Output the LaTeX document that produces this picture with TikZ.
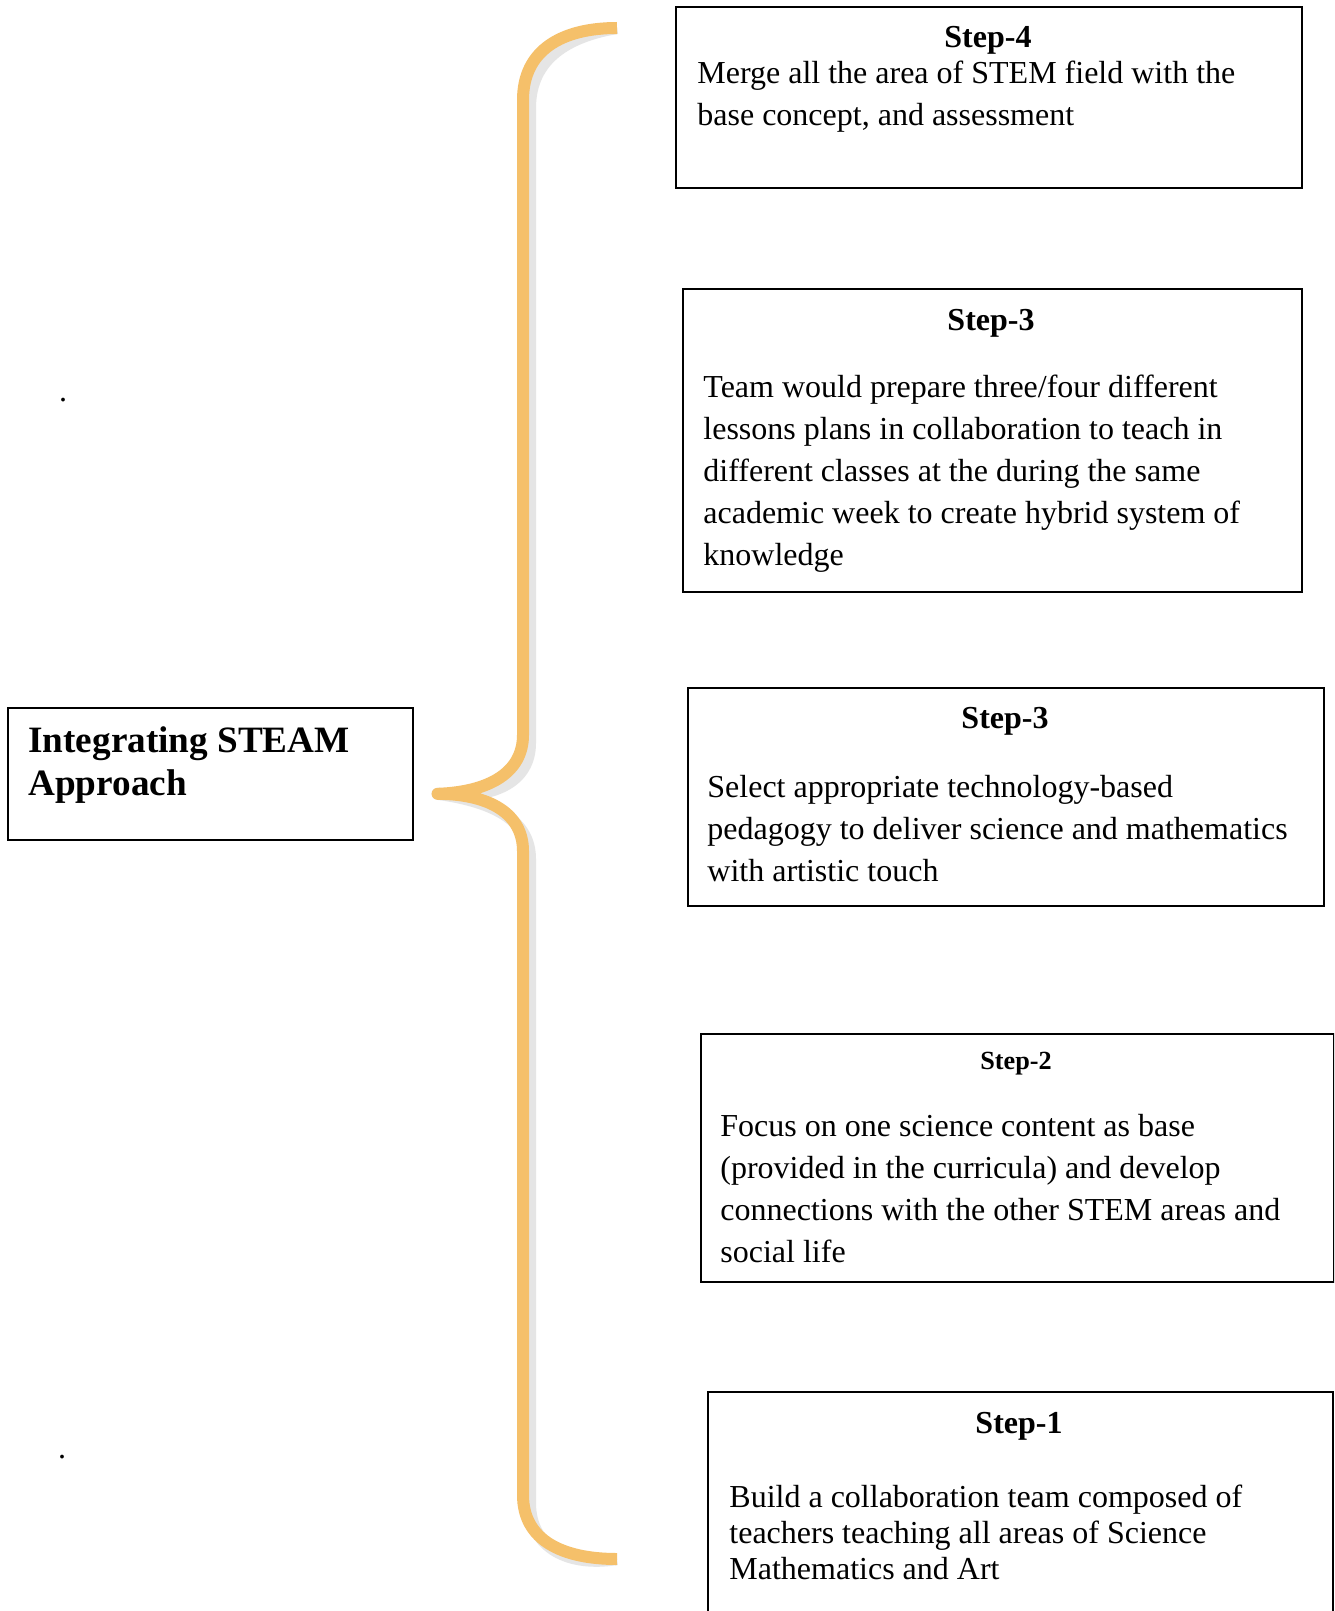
\documentclass[tikz,border=0pt]{standalone}
\usepackage{fontspec}
\setmainfont{Liberation Serif}
\usetikzlibrary{positioning}

\definecolor{braceorange}{RGB}{245,192,106}
\definecolor{braceshadow}{RGB}{229,229,229}

\begin{document}
\begin{tikzpicture}[
    x=0.5pt, y=-0.5pt,
    stepbox/.style={rectangle, draw=black, line width=0.8pt, anchor=north west, inner sep=0pt},
    steptitle/.style={anchor=base, inner sep=0pt, font=\fontsize{16}{21}\selectfont\bfseries},
    % base anchor sits on the last line of these
    steptext/.style={anchor=base west, inner sep=0pt, align=left, font=\fontsize{16}{21}\selectfont}
]
    \clip (0,0) rectangle (1334,1611);
    \fill[white] (0,0) rectangle (1334,1611);

    % Main box on the left
    \node[stepbox, minimum width=202.5pt, minimum height=66pt] (steam) at (7,707) {};
    \node[anchor=base west, inner sep=0pt, align=left, font=\fontsize{18.6}{21.5}\selectfont\bfseries]
        (steamtext) at (28,795) {Integrating STEAM\\Approach};

    % Steps, top to bottom
    \node[stepbox, minimum width=313pt, minimum height=90.5pt] (s4) at (675,6) {};
    \node[steptitle] (s4title) at (988,48) {Step-4};
    \node[steptext] (s4text) at (697,126) {Merge all the area of STEM field with the\\base concept, and assessment};

    \node[stepbox, minimum width=309.5pt, minimum height=151.5pt] (s3a) at (682,288) {};
    \node[steptitle] (s3atitle) at (991,330) {Step-3};
    \node[steptext] (s3atext) at (703,565) {Team would prepare three/four different\\lessons plans in collaboration to teach in\\different classes at the during the same\\academic week to create hybrid system of\\knowledge};

    \node[stepbox, minimum width=318pt, minimum height=109pt] (s3b) at (687,687) {};
    \node[steptitle] (s3btitle) at (1005,728) {Step-3};
    \node[steptext] (s3btext) at (707,881) {Select appropriate technology-based\\pedagogy to deliver science and mathematics\\with artistic touch};

    \node[stepbox, minimum width=316.5pt, minimum height=124pt] (s2) at (700,1033) {};
    \node[steptitle, font=\fontsize{13.1}{16}\selectfont\bfseries] (s2title) at (1016,1069) {Step-2};
    \node[steptext] (s2text) at (720,1262) {Focus on one science content as base\\(provided in the curricula) and develop\\connections with the other STEM areas and\\social life};

    \node[stepbox, minimum width=312.5pt, minimum height=130pt] (s1) at (707,1391) {};
    \node[steptitle] (s1title) at (1019,1433) {Step-1};
    \node[steptext, font=\fontsize{16}{18}\selectfont] (s1text) at (729,1579) {Build a collaboration team composed of\\teachers teaching all areas of Science\\Mathematics and Art};

    % stray full stops
    \node[anchor=base, inner sep=0pt, font=\fontsize{16}{21}\selectfont] (dotA) at (63,401) {.};
    \node[anchor=base, inner sep=0pt, font=\fontsize{16}{21}\selectfont] (dotB) at (62,1458) {.};

    % Curly brace with its shadow
    \coordinate (tip) at ([xshift=12pt,yshift=-10pt]steam.east);
    \coordinate (bracetop) at (617,28);
    \coordinate (bracebot) at (617,1559);
    \foreach \dx/\dy/\col in {7/8/braceshadow, 0/0/braceorange}
        \draw[\col, line width=6pt, line join=round, shift={(\dx,\dy)}]
            (bracetop) .. controls (562,28) and (523,50) .. (523,100)
            -- (523,735)
            .. controls (523,772) and (490,792) .. (tip)
            .. controls (490,794) and (523,814) .. (523,851)
            -- (523,1495)
            .. controls (523,1540) and (562,1559) .. (bracebot);
\end{tikzpicture}
\end{document}
